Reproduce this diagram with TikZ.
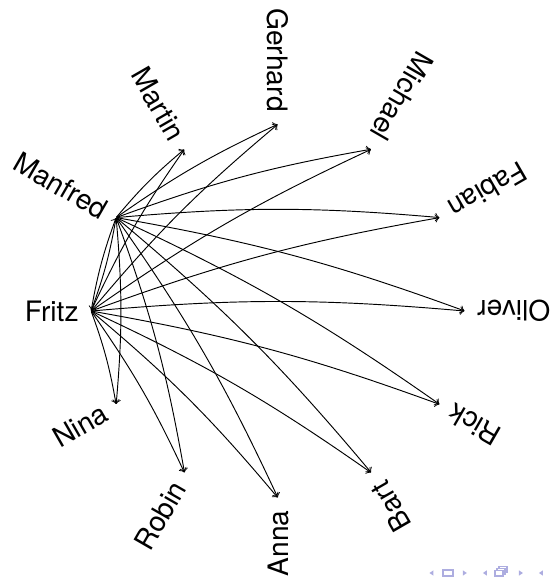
\documentclass[tikz,border=0pt]{standalone}
\usepackage{fontspec}
\setmainfont{TeX Gyre Heros}
\usetikzlibrary{arrows}
\definecolor{navblue}{HTML}{ADADE0}

\begin{document}
\begin{tikzpicture}[
    pt/.style={inner sep=0pt, minimum size=0pt},
    name_lbl/.style={inner sep=0pt, font=\fontsize{12}{14}\selectfont},
    edge/.style={->, line width=0.4pt, bend left=5},
    nav/.style={fill=navblue, draw=none},
    navbox/.style={draw=navblue, fill=white, line width=0.6pt}
]
    \useasboundingbox (-4.165,-4.045) rectangle (4.12,4.66);

    % Nodes on the circle, names turned outwards
    \foreach \a/\n in {0/Oliver, 30/Fabian, 60/Michael, 90/Gerhard, 120/Martin, 150/Manfred,
                       180/Fritz, 210/Nina, 240/Robin, 270/Anna, 300/Bart, 330/Rick}{
        \node[pt] (\n) at (\a:2.8) {};
        \node[name_lbl, rotate=\a+180, anchor=east] (\n_lbl) at (\a:2.98) {\n};
    }

    % Edges
    \foreach \t in {Manfred, Martin, Gerhard, Michael, Fabian, Oliver, Rick, Bart, Anna, Robin, Nina}
        \draw[edge] (Fritz) to (\t);
    \foreach \t in {Fritz, Martin, Gerhard, Michael, Fabian, Oliver, Rick, Bart, Anna, Robin, Nina}
        \draw[edge] (Manfred) to (\t);

    % navigation symbols
    \fill[nav] (2.27,-3.925) -- (2.33,-3.885) -- (2.33,-3.965) -- cycle;
    \draw[navbox] (2.47,-3.97) rectangle (2.62,-3.88);
    \fill[nav] (2.77,-3.885) -- (2.83,-3.925) -- (2.77,-3.965) -- cycle;
    \fill[nav] (3.07,-3.925) -- (3.13,-3.885) -- (3.13,-3.965) -- cycle;
    \draw[navbox] (3.31,-3.91) rectangle (3.43,-3.83);
    \draw[navbox] (3.28,-3.94) rectangle (3.40,-3.86);
    \draw[navbox] (3.25,-3.97) rectangle (3.37,-3.89);
    \fill[nav] (3.61,-3.885) -- (3.67,-3.925) -- (3.61,-3.965) -- cycle;
    \fill[nav] (3.91,-3.925) -- (3.97,-3.885) -- (3.97,-3.965) -- cycle;
\end{tikzpicture}
\end{document}
